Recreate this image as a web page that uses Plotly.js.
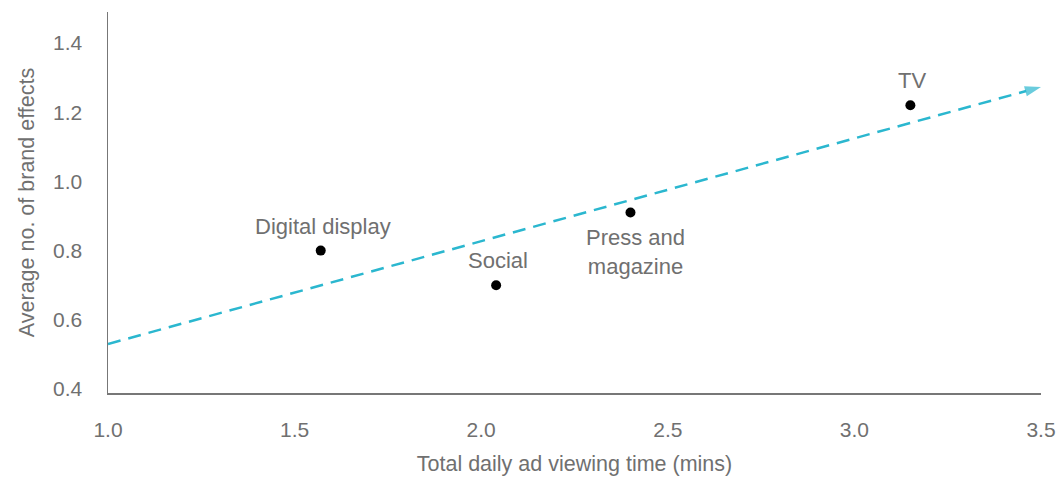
<!DOCTYPE html>
<html>
<head>
<meta charset="utf-8">
<script src="https://cdn.plot.ly/plotly-3.0.1.min.js"></script>
<style>html,body{margin:0;padding:0;background:#fff;}#chart{width:1062px;height:479px;}</style>
</head>
<body>
<div id="chart"></div>
<script>
// Data
const channels = ["Digital display", "Social", "Press and<br>magazine", "TV"];
const viewingTime = [1.57, 2.04, 2.40, 3.15];
const brandEffects = [0.80, 0.70, 0.91, 1.22];
const labelAbove = [true, true, false, true];

const trendX = [1.0, 3.5];
const trendY = [0.53, 1.273];

const xTicks = [1.0, 1.5, 2.0, 2.5, 3.0, 3.5];
const yTicks = [0.4, 0.6, 0.8, 1.0, 1.2, 1.4];

const textColor = "#707070";
const fontFamily = "Liberation Sans, Arial, sans-serif";

const traces = [
  {
    x: trendX, y: trendY, type: "scatter", mode: "lines+markers",
    line: {color: "#2bb7cf", width: 2.5, dash: "13px,8px"},
    marker: {symbol: "arrow", angleref: "previous", size: [0, 17], color: "#2bb7cf", line: {width: 0}},
    hoverinfo: "skip", showlegend: false, cliponaxis: false
  },
  {
    x: viewingTime, y: brandEffects, type: "scatter", mode: "markers",
    marker: {color: "#000", size: 10},
    text: channels, hoverinfo: "text", showlegend: false, cliponaxis: false
  }
];

const annotations = channels.map((c, i) => ({
  x: viewingTime[i], y: brandEffects[i], xref: "x", yref: "y",
  text: c, showarrow: false,
  font: {family: fontFamily, size: 22, color: textColor},
  yanchor: labelAbove[i] ? "bottom" : "top",
  yshift: labelAbove[i] ? 10 : -10,
  xshift: i === 2 ? 5 : 2
}));

const layout = {
  width: 1062, height: 479,
  margin: {l: 108, r: 21, t: 12, b: 86},
  paper_bgcolor: "#fff", plot_bgcolor: "#fff",
  font: {family: fontFamily, size: 21, color: textColor},
  xaxis: {
    range: [1.0, 3.5], tickvals: xTicks, ticktext: xTicks.map(v => v.toFixed(1)),
    showgrid: false, zeroline: false, showline: true, linecolor: "#777", linewidth: 1.5,
    ticks: "", ticklabelstandoff: 17,
    tickfont: {family: fontFamily, size: 21, color: textColor},
    title: {text: "Total daily ad viewing time (mins)", standoff: 16,
            font: {family: fontFamily, size: 21.5, color: textColor}},
    fixedrange: true
  },
  yaxis: {
    range: [0.3884, 1.4896], tickvals: yTicks, ticktext: yTicks.map(v => v.toFixed(1)),
    showgrid: false, zeroline: false, showline: true, linecolor: "#777", linewidth: 1.5,
    ticks: "", ticklabelstandoff: 20,
    tickfont: {family: fontFamily, size: 21, color: textColor},
    title: {text: "Average no. of brand effects", standoff: 12,
            font: {family: fontFamily, size: 21.5, color: textColor}},
    fixedrange: true
  },
  annotations: annotations
};

Plotly.newPlot("chart", traces, layout, {displayModeBar: false, staticPlot: true});
</script>
</body>
</html>
